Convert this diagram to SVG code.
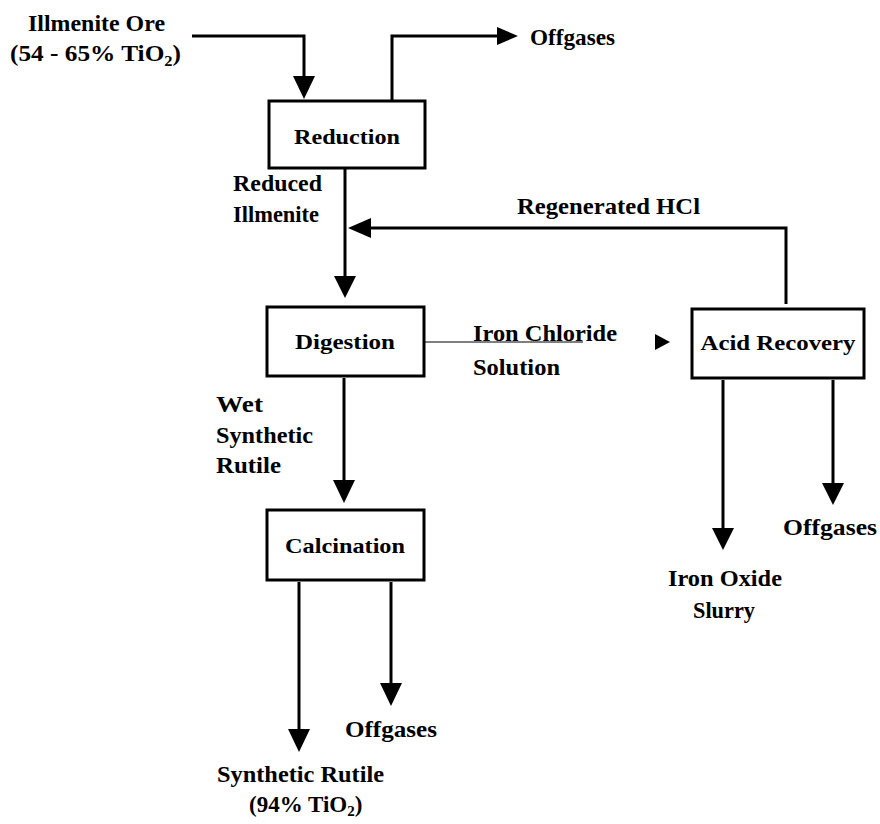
<svg xmlns="http://www.w3.org/2000/svg" width="880" height="824" viewBox="0 0 880 824">
  <style>
    .bg { fill: #ffffff; }
    .box { fill: #ffffff; stroke: #000000; stroke-width: 3; }
    .blabel { font-family: "Liberation Serif", "Times New Roman", serif; font-weight: bold; font-size: 21px; fill: #000000; text-anchor: middle; }
    .label { font-family: "Liberation Serif", "Times New Roman", serif; font-weight: bold; font-size: 23px; fill: #000000; }
    .sub { font-size: 15px; }
    .flow { fill: none; stroke: #000000; stroke-width: 3; }
    .thin { fill: none; stroke: #000000; stroke-width: 1.2; }
    .head { fill: #000000; stroke: none; }
  </style>
  <rect class="bg" x="0" y="0" width="880" height="824"/>

  <!-- stream lines and arrowheads -->
  <g id="connectors">
    <!-- ore feed into reduction -->
    <polyline class="flow" points="192,36 304,36 304,80"/>
    <polygon class="head" points="293,76 315,76 304,99"/>
    <!-- reduction offgases -->
    <polyline class="flow" points="392,101 392,36 500,36"/>
    <polygon class="head" points="497,27 497,45 518,36"/>
    <!-- reduced ilmenite to digestion -->
    <line class="flow" x1="345" y1="168" x2="345" y2="280"/>
    <polygon class="head" points="334,276 356,276 345,298"/>
    <!-- regenerated HCl return -->
    <polyline class="flow" points="786,304 786,228 368,228"/>
    <polygon class="head" points="371,218 371,238 348,228"/>
    <!-- iron chloride solution to acid recovery -->
    <line class="thin" x1="424" y1="342" x2="583" y2="342"/>
    <polygon class="head" points="655,334 655,350 670,342"/>
    <!-- wet synthetic rutile to calcination -->
    <line class="flow" x1="344" y1="378" x2="344" y2="484"/>
    <polygon class="head" points="333,480 355,480 344,503"/>
    <!-- calcination outputs -->
    <line class="flow" x1="299" y1="582" x2="299" y2="732"/>
    <polygon class="head" points="288,729 310,729 299,752"/>
    <line class="flow" x1="391" y1="582" x2="391" y2="686"/>
    <polygon class="head" points="380,683 402,683 391,706"/>
    <!-- acid recovery outputs -->
    <line class="flow" x1="723" y1="380" x2="723" y2="532"/>
    <polygon class="head" points="712,528 734,528 723,550"/>
    <line class="flow" x1="833" y1="380" x2="833" y2="487"/>
    <polygon class="head" points="822,483 844,483 833,505"/>
  </g>

  <g id="reduction">
    <rect class="box" x="269" y="101" width="156" height="67"/>
    <text class="blabel" x="347" y="144" textLength="106" lengthAdjust="spacingAndGlyphs">Reduction</text>
  </g>

  <g id="digestion">
    <rect class="box" x="267" y="307" width="157" height="69"/>
    <text class="blabel" x="345" y="349" textLength="100" lengthAdjust="spacingAndGlyphs">Digestion</text>
  </g>

  <g id="calcination">
    <rect class="box" x="267" y="510" width="157" height="70"/>
    <text class="blabel" x="345" y="553" textLength="120" lengthAdjust="spacingAndGlyphs">Calcination</text>
  </g>

  <g id="acid-recovery">
    <rect class="box" x="692" y="309" width="172" height="69"/>
    <text class="blabel" x="778" y="350" textLength="155" lengthAdjust="spacingAndGlyphs">Acid Recovery</text>
  </g>

  <!-- stream labels -->
  <g id="labels">
    <text class="label" x="28" y="31" textLength="137" lengthAdjust="spacingAndGlyphs">Illmenite Ore</text>
    <text class="label" x="10" y="61" textLength="171" lengthAdjust="spacingAndGlyphs">(54 - 65% TiO<tspan class="sub" dy="5">2</tspan><tspan dy="-5">)</tspan></text>
    <text class="label" x="530" y="45" font-size="20" textLength="85" lengthAdjust="spacingAndGlyphs">Offgases</text>
    <text class="label" x="233" y="191" textLength="89" lengthAdjust="spacingAndGlyphs">Reduced</text>
    <text class="label" x="233" y="222" textLength="86" lengthAdjust="spacingAndGlyphs">Illmenite</text>
    <text class="label" x="517" y="214" textLength="183" lengthAdjust="spacingAndGlyphs">Regenerated HCl</text>
    <text class="label" x="473" y="341" textLength="144" lengthAdjust="spacingAndGlyphs">Iron Chloride</text>
    <text class="label" x="473" y="375" textLength="87" lengthAdjust="spacingAndGlyphs">Solution</text>
    <text class="label" x="216" y="412" textLength="47" lengthAdjust="spacingAndGlyphs">Wet</text>
    <text class="label" x="216" y="443" textLength="97" lengthAdjust="spacingAndGlyphs">Synthetic</text>
    <text class="label" x="216" y="473" textLength="65" lengthAdjust="spacingAndGlyphs">Rutile</text>
    <text class="label" x="345" y="737" textLength="92" lengthAdjust="spacingAndGlyphs">Offgases</text>
    <text class="label" x="217" y="782" font-size="22" textLength="167" lengthAdjust="spacingAndGlyphs">Synthetic Rutile</text>
    <text class="label" x="249" y="812" font-size="21">(94% TiO<tspan class="sub" dy="4">2</tspan><tspan dy="-4">)</tspan></text>
    <text class="label" x="668" y="586" textLength="114" lengthAdjust="spacingAndGlyphs">Iron Oxide</text>
    <text class="label" x="693" y="618" textLength="62" lengthAdjust="spacingAndGlyphs">Slurry</text>
    <text class="label" x="783" y="535" textLength="94" lengthAdjust="spacingAndGlyphs">Offgases</text>
  </g>
</svg>
